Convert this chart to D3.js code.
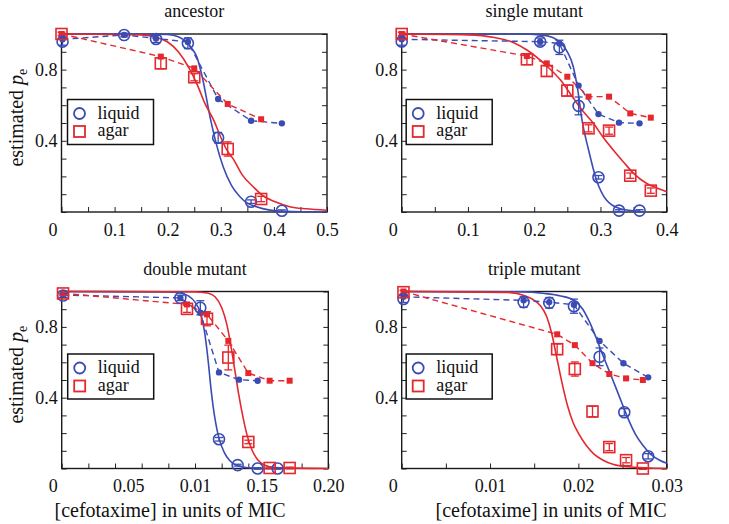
<!DOCTYPE html>
<html>
<head>
<meta charset="utf-8">
<script src="https://cdn.jsdelivr.net/npm/d3@7"></script>
<style>
  body { margin: 0; background: #fff; }
  svg { display: block; }
  svg text { font-family: "Liberation Serif", "Times New Roman", serif; }
</style>
</head>
<body>
<svg width="729" height="524"></svg>
<script>
// ---- data: [concentration, estimated pe, error] ----
const ancestorLiquid = [[0.002, 0.957, 0.02], [0.118, 0.994, 0.01], [0.178, 0.972, 0.02], [0.238, 0.948, 0.03], [0.295, 0.417, 0.03], [0.357, 0.058, 0.01], [0.415, 0.007, 0.005]];
const ancestorLiquidDash = [[0.002, 0.97], [0.118, 0.995], [0.178, 0.975], [0.238, 0.955], [0.295, 0.635], [0.357, 0.513], [0.415, 0.498]];
const ancestorAgar = [[0.0, 1.0, 0.01], [0.187, 0.835, 0.03], [0.25, 0.757, 0.02], [0.313, 0.354, 0.04], [0.376, 0.073, 0.015]];
const ancestorAgarDash = [[0.0, 1.0], [0.187, 0.873], [0.25, 0.807], [0.313, 0.607], [0.376, 0.521]];
const ancestorLiquidFit = [[0, 1], [0.15, 1], [0.2, 0.997], [0.22, 0.985], [0.235, 0.955], [0.245, 0.92], [0.255, 0.87], [0.265, 0.76], [0.28, 0.53], [0.29, 0.4], [0.305, 0.25], [0.32, 0.15], [0.336, 0.086], [0.35, 0.05], [0.367, 0.03], [0.39, 0.012], [0.42, 0.004], [0.5, 0]];
const ancestorAgarFit = [[0, 1], [0.15, 0.995], [0.18, 0.98], [0.2, 0.955], [0.22, 0.9], [0.24, 0.81], [0.255, 0.72], [0.27, 0.61], [0.286, 0.52], [0.3, 0.42], [0.311, 0.35], [0.323, 0.3], [0.34, 0.21], [0.361, 0.142], [0.38, 0.09], [0.4, 0.06], [0.43, 0.03], [0.46, 0.018], [0.5, 0.01]];

const singleLiquid = [[0.0, 0.957, 0.02], [0.209, 0.957, 0.02], [0.238, 0.925, 0.04], [0.267, 0.596, 0.05], [0.297, 0.195, 0.01], [0.328, 0.008, 0.005], [0.359, 0.008, 0.005]];
const singleLiquidDash = [[0.0, 0.97], [0.209, 0.957], [0.238, 0.947], [0.267, 0.71], [0.297, 0.55], [0.328, 0.502], [0.359, 0.498]];
const singleAgar = [[0.0, 1.0, 0.01], [0.189, 0.858, 0.03], [0.219, 0.792, 0.03], [0.25, 0.682, 0.03], [0.282, 0.47, 0.02], [0.313, 0.457, 0.02], [0.345, 0.204, 0.015], [0.376, 0.12, 0.015]];
const singleAgarDash = [[0.0, 1.0], [0.189, 0.876], [0.219, 0.835], [0.25, 0.76], [0.282, 0.648], [0.313, 0.648], [0.345, 0.554], [0.376, 0.53]];
const singleLiquidFit = [[0, 1], [0.18, 1], [0.21, 0.995], [0.228, 0.98], [0.24, 0.95], [0.25, 0.9], [0.259, 0.816], [0.266, 0.68], [0.272, 0.52], [0.282, 0.35], [0.294, 0.18], [0.309, 0.067], [0.329, 0.02], [0.36, 0.004]];
const singleAgarFit = [[0, 1], [0.1, 0.995], [0.14, 0.98], [0.17, 0.95], [0.189, 0.91], [0.219, 0.82], [0.24, 0.74], [0.259, 0.64], [0.275, 0.56], [0.289, 0.5], [0.304, 0.42], [0.319, 0.35], [0.335, 0.28], [0.35, 0.217], [0.37, 0.16], [0.385, 0.135], [0.4, 0.114]];

const doubleLiquid = [[0.001, 0.977, 0.01], [0.089, 0.964, 0.015], [0.104, 0.908, 0.04], [0.118, 0.165, 0.01], [0.132, 0.019, 0.005], [0.147, 0.0, 0.004], [0.162, 0.0, 0.004]];
const doubleLiquidDash = [[0.001, 0.98], [0.089, 0.964], [0.104, 0.88], [0.118, 0.543], [0.133, 0.502], [0.147, 0.496]];
const doubleAgar = [[0.001, 0.989, 0.01], [0.094, 0.902, 0.02], [0.109, 0.846, 0.04], [0.125, 0.627, 0.07], [0.14, 0.15, 0.01], [0.156, 0.003, 0.005], [0.171, 0.003, 0.005]];
const doubleAgarDash = [[0.001, 0.99], [0.094, 0.927], [0.109, 0.871], [0.125, 0.721], [0.14, 0.539], [0.156, 0.496], [0.171, 0.496]];
const doubleLiquidFit = [[0, 1], [0.08, 0.998], [0.09, 0.99], [0.095, 0.975], [0.1, 0.94], [0.104, 0.88], [0.107, 0.78], [0.11, 0.6], [0.112, 0.45], [0.115, 0.28], [0.118, 0.17], [0.122, 0.09], [0.126, 0.045], [0.132, 0.015], [0.14, 0.004], [0.16, 0]];
const doubleAgarFit = [[0, 1], [0.1, 0.998], [0.11, 0.99], [0.115, 0.97], [0.12, 0.91], [0.124, 0.81], [0.127, 0.69], [0.13, 0.55], [0.133, 0.41], [0.136, 0.29], [0.139, 0.19], [0.143, 0.1], [0.147, 0.05], [0.152, 0.02], [0.16, 0.005], [0.2, 0]];

const tripleLiquid = [[0.0002, 0.958, 0.02], [0.0138, 0.94, 0.03], [0.0167, 0.936, 0.03], [0.0195, 0.917, 0.04], [0.0224, 0.631, 0.05], [0.0252, 0.318, 0.02], [0.0279, 0.069, 0.015]];
const tripleLiquidDash = [[0.0002, 0.97], [0.0138, 0.95], [0.0167, 0.94], [0.0195, 0.925], [0.0224, 0.721], [0.0251, 0.595], [0.0279, 0.515]];
const tripleAgar = [[0.0002, 0.996, 0.01], [0.0176, 0.674, 0.03], [0.0196, 0.562, 0.04], [0.0216, 0.322, 0.03], [0.0235, 0.121, 0.02], [0.0254, 0.047, 0.015], [0.0273, 0.0, 0.005]];
const tripleAgarDash = [[0.0002, 1.0], [0.0176, 0.758], [0.0196, 0.697], [0.0216, 0.595], [0.0235, 0.534], [0.0254, 0.509], [0.0273, 0.5]];
const tripleLiquidFit = [[0, 1], [0.014, 0.998], [0.016, 0.99], [0.018, 0.975], [0.0195, 0.95], [0.0205, 0.9], [0.0213, 0.824], [0.022, 0.74], [0.0228, 0.637], [0.0235, 0.55], [0.0243, 0.45], [0.025, 0.36], [0.0258, 0.262], [0.0265, 0.19], [0.0273, 0.131], [0.0282, 0.08], [0.0292, 0.047], [0.03, 0.03]];
const tripleAgarFit = [[0, 1], [0.012, 0.995], [0.014, 0.975], [0.015, 0.95], [0.0157, 0.92], [0.0164, 0.86], [0.017, 0.76], [0.0175, 0.64], [0.0183, 0.45], [0.0188, 0.35], [0.0194, 0.26], [0.02, 0.2], [0.0209, 0.13], [0.0218, 0.08], [0.0228, 0.047], [0.024, 0.022], [0.0255, 0.01], [0.03, 0]];

// tick labels (as printed in the figure)
const ancestorTicks = [0, 0.1, 0.2, 0.3, 0.4, 0.5];
const ancestorTickText = ['0', '0.1', '0.2', '0.3', '0.4', '0.5'];
const singleTicks = [0, 0.1, 0.2, 0.3, 0.4];
const singleTickText = ['0', '0.1', '0.2', '0.3', '0.4'];
const doubleTicks = [0, 0.05, 0.1, 0.15, 0.2];
const doubleTickText = ['0', '0.05', '0.01', '0.15', '0.20'];
const tripleTicks = [0, 0.01, 0.02, 0.03];
const tripleTickText = ['0', '0.01', '0.02', '0.03'];
const yTicks = [0.4, 0.8];
const legendNames = ['liquid', 'agar'];

const blue = '#3a4cb4';
const red = '#e4282e';
const serif = '"Liberation Serif", "Times New Roman", serif';

const panels = [
  { title: 'ancestor', left: 61.5, top: 34, w: 265.5, h: 178, xMax: 0.5, minor: 10,
    ticks: ancestorTicks, tickText: ancestorTickText, yLabel: true, xLabel: false,
    liquid: ancestorLiquid, liquidDash: ancestorLiquidDash, liquidFit: ancestorLiquidFit,
    agar: ancestorAgar, agarDash: ancestorAgarDash, agarFit: ancestorAgarFit },
  { title: 'single mutant', left: 401.7, top: 34, w: 265, h: 178, xMax: 0.4, minor: 8,
    ticks: singleTicks, tickText: singleTickText, yLabel: false, xLabel: false,
    liquid: singleLiquid, liquidDash: singleLiquidDash, liquidFit: singleLiquidFit,
    agar: singleAgar, agarDash: singleAgarDash, agarFit: singleAgarFit },
  { title: 'double mutant', left: 61.7, top: 291.5, w: 266.6, h: 177, xMax: 0.2, minor: 8,
    ticks: doubleTicks, tickText: doubleTickText, yLabel: true, xLabel: 170,
    liquid: doubleLiquid, liquidDash: doubleLiquidDash, liquidFit: doubleLiquidFit,
    agar: doubleAgar, agarDash: doubleAgarDash, agarFit: doubleAgarFit },
  { title: 'triple mutant', left: 401.7, top: 291.5, w: 265, h: 177, xMax: 0.03, minor: 6,
    ticks: tripleTicks, tickText: tripleTickText, yLabel: false, xLabel: 551,
    liquid: tripleLiquid, liquidDash: tripleLiquidDash, liquidFit: tripleLiquidFit,
    agar: tripleAgar, agarDash: tripleAgarDash, agarFit: tripleAgarFit }
];

const svg = d3.select('svg').attr('font-family', serif);

panels.forEach(p => {
  let g = svg.append('g').attr('transform', `translate(${p.left},${p.top})`);

  let x = d3.scaleLinear().domain([0, p.xMax]).range([0, p.w]);
  let y = d3.scaleLinear().domain([0, 1]).range([p.h, 0]);

  // Axes: inward ticks on left, right and bottom
  let styleAxis = a => {
    a.select('.domain').remove();
    a.attr('font-family', serif).attr('font-size', 18);
    a.selectAll('line').attr('stroke', '#222').attr('stroke-width', 1);
    a.selectAll('text').attr('fill', '#111').attr('font-family', serif);
  };

  g.append('g').attr('transform', `translate(0,${p.h})`)
    .call(d3.axisBottom(x).tickValues(x.ticks(p.minor)).tickSize(-5).tickFormat(''))
    .call(styleAxis);

  g.append('g').attr('transform', `translate(0,${p.h})`)
    .call(d3.axisBottom(x).tickValues(p.ticks).tickSize(0).tickPadding(11)
      .tickFormat((d, i) => p.tickText[i]))
    .call(styleAxis)
    .selectAll('text').filter(d => d === 0).attr('dx', -9);

  g.append('g')
    .call(d3.axisLeft(y).ticks(10).tickSize(-5).tickFormat(''))
    .call(styleAxis);

  g.append('g')
    .call(d3.axisLeft(y).tickValues(yTicks).tickSize(0).tickPadding(4).tickFormat(d3.format('.1f')))
    .call(styleAxis);

  g.append('g').attr('transform', `translate(${p.w},0)`)
    .call(d3.axisRight(y).ticks(10).tickSize(-5).tickFormat(''))
    .call(styleAxis);

  g.append('rect')
    .attr('width', p.w).attr('height', p.h)
    .attr('fill', 'none').attr('stroke', '#1a1a1a').attr('stroke-width', 1.4);

  // Title
  svg.append('text')
    .attr('x', p.left + p.w / 2).attr('y', p.top - 17)
    .attr('text-anchor', 'middle').attr('font-size', 18).attr('fill', '#111')
    .text(p.title);

  let line = d3.line().x(d => x(d[0])).y(d => y(d[1]));
  let smooth = d3.line().x(d => x(d[0])).y(d => y(d[1])).curve(d3.curveMonotoneX);

  // Fitted curves
  [[p.liquidFit, blue], [p.agarFit, red]].forEach(([data, c]) => {
    g.append('path').datum(data).attr('d', smooth)
      .attr('fill', 'none').attr('stroke', c).attr('stroke-width', 1.6);
  });

  // Dashed series with small filled markers
  g.append('path').datum(p.liquidDash).attr('d', line)
    .attr('fill', 'none').attr('stroke', blue).attr('stroke-width', 1.4).attr('stroke-dasharray', '6,4');
  g.append('path').datum(p.agarDash).attr('d', line)
    .attr('fill', 'none').attr('stroke', red).attr('stroke-width', 1.4).attr('stroke-dasharray', '6,4');

  g.selectAll('.dotL').data(p.liquidDash).enter().append('circle')
    .attr('cx', d => x(d[0])).attr('cy', d => y(d[1])).attr('r', 3.2).attr('fill', blue);
  g.selectAll('.dotA').data(p.agarDash).enter().append('rect')
    .attr('x', d => x(d[0]) - 3).attr('y', d => y(d[1]) - 3)
    .attr('width', 6).attr('height', 6).attr('fill', red);

  // Error bars
  [[p.liquid, blue], [p.agar, red]].forEach(([data, c]) => {
    let eb = g.append('g').attr('stroke', c).attr('stroke-width', 1.3);
    data.forEach(d => {
      let cx = x(d[0]), y0 = y(d[1] - d[2]), y1 = y(d[1] + d[2]);
      eb.append('line').attr('x1', cx).attr('x2', cx).attr('y1', y0).attr('y2', y1);
      eb.append('line').attr('x1', cx - 4).attr('x2', cx + 4).attr('y1', y0).attr('y2', y0);
      eb.append('line').attr('x1', cx - 4).attr('x2', cx + 4).attr('y1', y1).attr('y2', y1);
    });
  });

  // Open markers
  g.selectAll('.circ').data(p.liquid).enter().append('circle')
    .attr('cx', d => x(d[0])).attr('cy', d => y(d[1])).attr('r', 5.5)
    .attr('fill', 'none').attr('stroke', blue).attr('stroke-width', 1.6);
  g.selectAll('.sq').data(p.agar).enter().append('rect')
    .attr('x', d => x(d[0]) - 5.5).attr('y', d => y(d[1]) - 5.5)
    .attr('width', 11).attr('height', 11)
    .attr('fill', 'none').attr('stroke', red).attr('stroke-width', 1.6);

  // Legend
  let lg = g.append('g').attr('transform', `translate(${p.left < 100 ? 6 : 4.5},${p.top < 100 ? 65.5 : 62.5})`);
  lg.append('rect').attr('width', 86).attr('height', 45)
    .attr('fill', '#fff').attr('stroke', '#111').attr('stroke-width', 1.5);
  lg.append('circle').attr('cx', 12).attr('cy', 14).attr('r', 5.5)
    .attr('fill', 'none').attr('stroke', blue).attr('stroke-width', 1.8);
  lg.append('rect').attr('x', 6.5).attr('y', 26.5).attr('width', 11).attr('height', 11)
    .attr('fill', 'none').attr('stroke', red).attr('stroke-width', 1.8);
  lg.selectAll('text').data(legendNames).enter().append('text')
    .attr('x', 30).attr('y', (d, i) => 19 + i * 17.5)
    .attr('font-size', 18).attr('fill', '#111')
    .text(d => d);

  // Axis titles
  if (p.yLabel) {
    let t = svg.append('text')
      .attr('transform', `translate(23,${p.top + p.h * 0.47}) rotate(-90)`)
      .attr('text-anchor', 'middle').attr('font-size', 20).attr('fill', '#111');
    t.append('tspan').text('estimated ');
    t.append('tspan').attr('font-style', 'italic').text('p');
    t.append('tspan').attr('font-size', 14).attr('dy', 4).text('e');
  }
  if (p.xLabel) {
    svg.append('text')
      .attr('x', p.xLabel).attr('y', 517)
      .attr('text-anchor', 'middle').attr('font-size', 20).attr('fill', '#111')
      .text('[cefotaxime] in units of MIC');
  }
});
</script>
</body>
</html>
